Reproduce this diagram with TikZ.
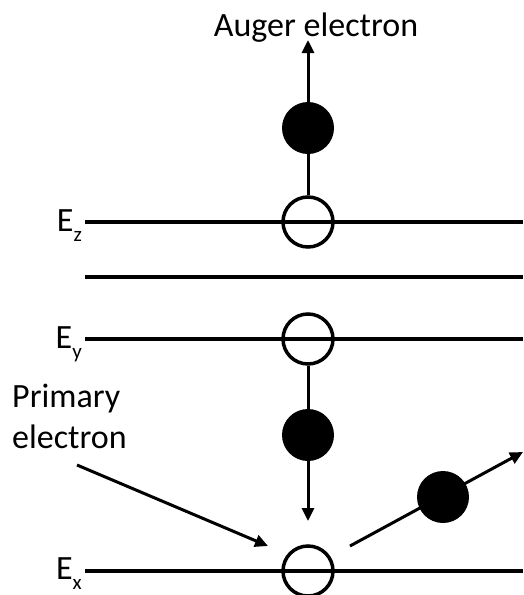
\documentclass[tikz,border=0pt]{standalone}
\usepackage{fontspec}
\setmainfont{Carlito}
\usetikzlibrary{arrows.meta}
\newcommand{\lowsub}[1]{\raisebox{-0.3em}{\fontsize{21}{21}\selectfont #1}}
\tikzset{
  x=1pt, y=-1pt,
  level/.style={line width=4pt},
  hole/.style={circle, draw, line width=3.5pt, minimum size=50pt, inner sep=0pt},
  electron/.style={circle, fill=black, minimum size=52pt, inner sep=0pt},
  path/.style={line width=3pt},
  arr/.style={line width=3pt, -{Triangle[width=12pt,length=13pt]}},
  lbl/.style={font=\fontsize{34}{41}\selectfont, inner sep=0pt},
}
\begin{document}
\begin{tikzpicture}
\useasboundingbox (0,0) rectangle (523,595);
% energy levels
\coordinate (lz0) at (85,222); \coordinate (lz1) at (523,222);
\coordinate (lw0) at (85,277); \coordinate (lw1) at (523,277);
\coordinate (ly0) at (85,339); \coordinate (ly1) at (523,339);
\coordinate (lx0) at (85,571); \coordinate (lx1) at (523,571);
\draw[level] (lz0) -- (lz1);
\draw[level] (lw0) -- (lw1);
\draw[level] (ly0) -- (ly1);
\draw[level] (lx0) -- (lx1);
% labels
\node[lbl, anchor=base east] (Ez) at (82,231) {E\lowsub{z}};
\node[lbl, anchor=base east] (Ey) at (82,348) {E\lowsub{y}};
\node[lbl, anchor=base east] (Ex) at (82,579) {E\lowsub{x}};
\node[lbl, anchor=base] (auger) at (316,36) {Auger electron};
\node[lbl, anchor=north west, align=left] (primary) at (12,384) {Primary\\electron};
% holes and electrons
\node[hole] (hz) at (308,222) {};
\node[hole] (hy) at (308,339) {};
\node[hole] (hx) at (308,571) {};
\node[electron] (ea) at (308,128) {};
\node[electron] (eb) at (308,435) {};
% connectors
\coordinate (atop) at (308,40);
\draw[path] (hz.north) -- (ea.south);
\draw[arr] (ea.north) -- (atop);
\coordinate (bbot) at (308,521);
\draw[path] (hy.south) -- (eb.north);
\draw[arr] (eb.south) -- (bbot);
\coordinate (p0) at (77,465);
\coordinate (p1) at (268,546);
\draw[arr] (p0) -- (p1);
\coordinate (s0) at (350,546);
\coordinate (s1) at (523,452);
\draw[arr] (s0) -- (s1);
\node[electron] (ec) at (443,497) {};
\end{tikzpicture}
\end{document}
